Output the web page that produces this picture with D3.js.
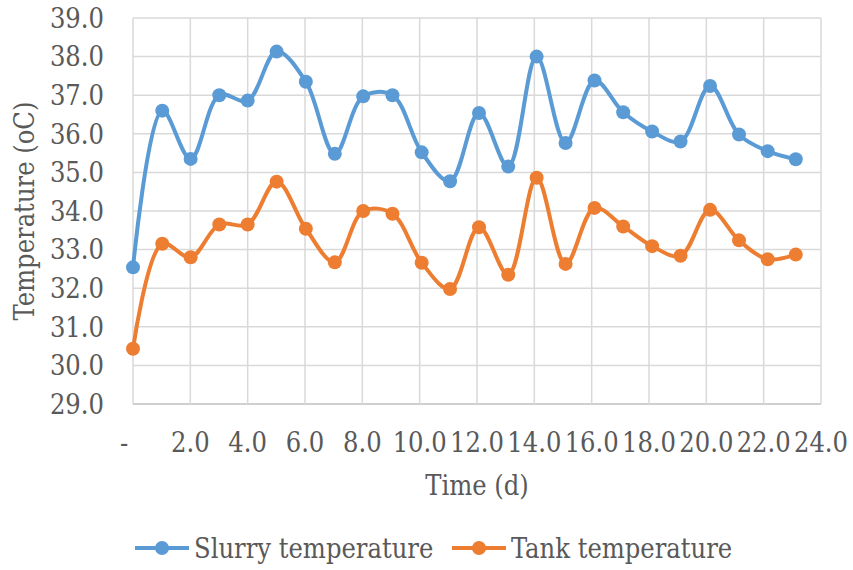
<!DOCTYPE html>
<html>
<head>
<meta charset="utf-8">
<script src="https://cdn.jsdelivr.net/npm/d3@7"></script>
<style>
  body { margin: 0; background: #fff; }
  svg text { fill: #595959; }
</style>
</head>
<body>
<div id="chart"></div>
<script>
// time (d) of each reading
var days = [0, 1.02, 2.01, 3.01, 4.0, 5.01, 6.03, 7.04, 8.03, 9.05, 10.07, 11.06,
            12.07, 13.09, 14.08, 15.09, 16.1, 17.1, 18.11, 19.1, 20.13, 21.14, 22.14, 23.12];
var slurry = [32.54, 36.6, 35.35, 37.0, 36.86, 38.13, 37.35, 35.48, 36.97, 37.0, 35.52, 34.77,
              36.54, 35.15, 38.0, 35.76, 37.38, 36.56, 36.06, 35.8, 37.24, 35.98, 35.55, 35.34];
var tank = [30.43, 33.15, 32.8, 33.65, 33.65, 34.76, 33.54, 32.67, 34.0, 33.93, 32.66, 31.98,
            33.58, 32.35, 34.86, 32.63, 34.08, 33.6, 33.09, 32.84, 34.03, 33.24, 32.75, 32.87];
var seriesNames = ['Slurry temperature', 'Tank temperature'];
var seriesColors = ['#5B9BD5', '#ED7D31'];
var xTicks = d3.range(0, 25, 2);
var yTicks = d3.range(29, 40, 1);

var width = 853, height = 570;
var margin = {left: 133, right: 32, top: 18, bottom: 166};
var font = '"DejaVu Serif Condensed", "DejaVu Serif"';
var fs = '27px';

var svg = d3.select('#chart').append('svg')
  .attr('width', width)
  .attr('height', height);

var x = d3.scaleLinear().domain([0, 24]).range([margin.left, width - margin.right]);
var y = d3.scaleLinear().domain([29, 39]).range([height - margin.bottom, margin.top]);

// grid
var grid = svg.append('g').attr('class', 'grid');
grid.selectAll('line.h').data(yTicks)
  .enter().append('line')
  .attr('x1', x(0)).attr('x2', x(24))
  .attr('y1', function(d) { return y(d); })
  .attr('y2', function(d) { return y(d); })
  .attr('stroke', function(d) { return d === 29 ? '#bfbfbf' : '#d9d9d9'; })
  .attr('stroke-width', 1.5);
grid.selectAll('line.v').data(xTicks)
  .enter().append('line')
  .attr('y1', y(29)).attr('y2', y(39))
  .attr('x1', function(d) { return x(d); })
  .attr('x2', function(d) { return x(d); })
  .attr('stroke', '#d9d9d9')
  .attr('stroke-width', 1.5);

// y labels
svg.append('g').selectAll('text').data(yTicks)
  .enter().append('text')
  .attr('x', x(0) - 29)
  .attr('y', function(d) { return y(d); })
  .attr('dy', '0.36em')
  .attr('text-anchor', 'end')
  .style('font-family', font)
  .style('font-size', fs)
  .text(function(d) { return d.toFixed(1); });

// x labels
svg.append('g').selectAll('text').data(xTicks)
  .enter().append('text')
  .attr('x', function(d) { return x(d); })
  .attr('dx', function(d) { return d === 0 ? -9 : 0; })
  .attr('y', 452)
  .attr('text-anchor', 'middle')
  .style('font-family', font)
  .style('font-size', fs)
  .text(function(d) { return d === 0 ? '-' : d.toFixed(1); });

// axis titles
svg.append('text')
  .attr('x', (x(0) + x(24)) / 2)
  .attr('y', 495)
  .attr('text-anchor', 'middle')
  .style('font-family', font)
  .style('font-size', fs)
  .text('Time (d)');

svg.append('text')
  .attr('transform', 'translate(34,' + (y(29) + y(39)) / 2 + ') rotate(-90)')
  .attr('text-anchor', 'middle')
  .style('font-family', font)
  .style('font-size', fs)
  .text('Temperature (oC)');

// series
var line = d3.line()
  .x(function(d) { return x(d[0]); })
  .y(function(d) { return y(d[1]); })
  .curve(d3.curveCatmullRom.alpha(0.5));

[slurry, tank].forEach(function(vals, i) {
  var pts = days.map(function(t, j) { return [t, vals[j]]; });
  var g = svg.append('g');
  g.append('path')
    .attr('d', line(pts))
    .attr('fill', 'none')
    .attr('stroke', seriesColors[i])
    .attr('stroke-width', 4)
    .attr('stroke-linejoin', 'round');
  g.selectAll('circle').data(pts)
    .enter().append('circle')
    .attr('cx', function(d) { return x(d[0]); })
    .attr('cy', function(d) { return y(d[1]); })
    .attr('r', 7)
    .attr('fill', seriesColors[i]);
});

// legend
var legendX = [135, 452];
var legend = svg.append('g').selectAll('g').data(seriesNames)
  .enter().append('g')
  .attr('transform', function(d, i) { return 'translate(' + legendX[i] + ',548)'; });
legend.append('line')
  .attr('x1', 0).attr('x2', 54)
  .attr('stroke', function(d, i) { return seriesColors[i]; })
  .attr('stroke-width', 4);
legend.append('circle')
  .attr('cx', 27).attr('r', 7)
  .attr('fill', function(d, i) { return seriesColors[i]; });
legend.append('text')
  .attr('x', 59)
  .attr('y', 10)
  .style('font-family', font)
  .style('font-size', fs)
  .text(function(d) { return d; });
</script>
</body>
</html>
